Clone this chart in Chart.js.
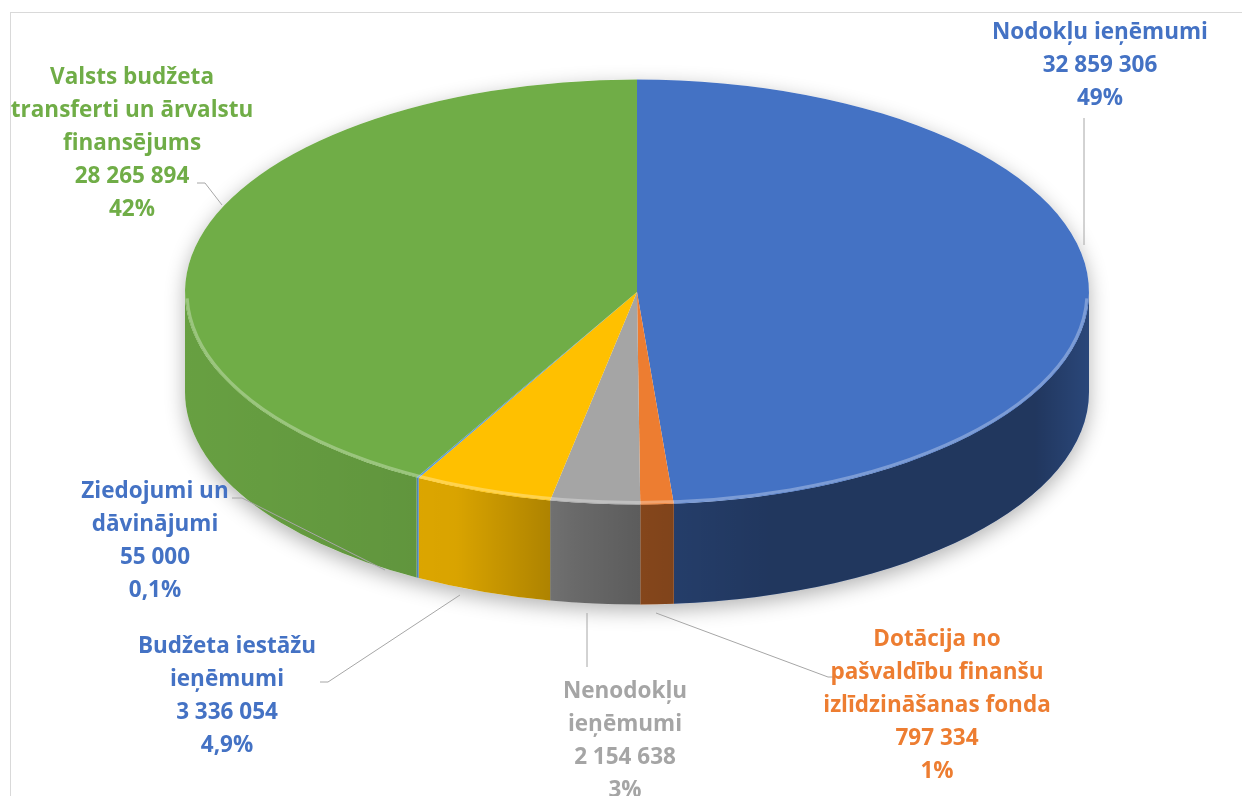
<!DOCTYPE html>
<html>
<head>
<meta charset="utf-8">
<script src="https://cdn.jsdelivr.net/npm/chart.js@4.4.0/dist/chart.umd.min.js"></script>
<style>
  html, body { margin: 0; padding: 0; background: #fff; }
</style>
</head>
<body>
<canvas id="pie" width="1242" height="796"></canvas>
<script>
// data
const labels = [
    'Nodokļu ieņēmumi',
    'Dotācija no\npašvaldību finanšu\nizlīdzināšanas fonda',
    'Nenodokļu\nieņēmumi',
    'Budžeta iestāžu\nieņēmumi',
    'Ziedojumi un\ndāvinājumi',
    'Valsts budžeta\ntransferti un ārvalstu\nfinansējums'
];
const values = [32859306, 797334, 2154638, 3336054, 55000, 28265894];
const shares = ['49%', '1%', '3%', '4,9%', '0,1%', '42%'];
const colors = ['#4472C4', '#ED7D31', '#A5A5A5', '#FFC000', '#5B9BD5', '#70AD47'];
const textColors = ['#4472C4', '#ED7D31', '#A5A5A5', '#4472C4', '#4472C4', '#70AD47'];

// label placement (centre x, first line y) and leader lines
const labelLayout = [
    { x: 1100, y: 33, leader: [[1084, 118], [1084, 245]] },
    { x: 937, y: 640, leader: [[838, 677], [828, 677], [656, 613]] },
    { x: 625, y: 692, leader: [[587, 667], [587, 613]] },
    { x: 227, y: 647, leader: [[320, 682], [328, 682], [460, 595]] },
    { x: 155, y: 492, leader: [[232, 498], [242, 498], [385, 570]] },
    { x: 132, y: 78, leader: [[197, 183], [205, 183], [222, 205]] }
];
const lineStep = 33;

function fmt(v) {
    return v.toString().replace(/\B(?=(\d{3})+(?!\d))/g, ' ');
}

const pie3d = {
    id: 'pie3d',
    beforeDraw(chart) {
        let ctx = chart.ctx;
        ctx.save();
        ctx.strokeStyle = '#D9D9D9';
        ctx.lineWidth = 1;
        ctx.strokeRect(10.5, 12.5, 1400, 1000);
        ctx.restore();
    },
    beforeDatasetsDraw(chart, args, opts) {
        let ctx = chart.ctx;
        let arcs = chart.getDatasetMeta(0).data;
        let p = arcs[0].getProps(['x', 'y', 'outerRadius'], true);
        let cx = p.x, cy = p.y, r = p.outerRadius;
        let ry = r * opts.tilt, d = opts.depth;

        // soft shadow under the body
        ctx.save();
        ctx.shadowColor = 'rgba(0,0,0,0.3)';
        ctx.shadowBlur = 20;
        ctx.shadowOffsetY = 6;
        ctx.fillStyle = '#fff';
        ctx.beginPath();
        ctx.ellipse(cx, cy, r, ry, 0, Math.PI, 2 * Math.PI);
        ctx.lineTo(cx + r, cy + d);
        ctx.ellipse(cx, cy + d, r, ry, 0, 0, Math.PI);
        ctx.closePath();
        ctx.fill();
        ctx.restore();

        // side walls
        let shade = ctx.createLinearGradient(cx - r, 0, cx + r, 0);
        shade.addColorStop(0, 'rgba(0,0,0,0.08)');
        shade.addColorStop(0.3, 'rgba(0,0,0,0.15)');
        shade.addColorStop(0.43, 'rgba(0,0,0,0.36)');
        shade.addColorStop(0.5, 'rgba(0,0,0,0.44)');
        shade.addColorStop(0.65, 'rgba(0,0,0,0.52)');
        shade.addColorStop(0.94, 'rgba(0,0,0,0.52)');
        shade.addColorStop(1, 'rgba(0,0,0,0.38)');
        arcs.forEach((arc, i) => {
            let a = arc.getProps(['startAngle', 'endAngle'], true);
            let s = Math.max(a.startAngle, 0), e = Math.min(a.endAngle, Math.PI);
            if (e <= s) return;
            ctx.beginPath();
            ctx.ellipse(cx, cy, r, ry, 0, s, e);
            ctx.lineTo(cx + r * Math.cos(e), cy + d + ry * Math.sin(e));
            ctx.ellipse(cx, cy + d, r, ry, 0, e, s, true);
            ctx.closePath();
            ctx.fillStyle = colors[i];
            ctx.fill();
            ctx.fillStyle = shade;
            ctx.fill();
        });

        // squash the flat pie into the top face
        ctx.save();
        ctx.translate(cx, cy);
        ctx.scale(1, opts.tilt);
        ctx.translate(-cx, -cy);
    },
    afterDatasetsDraw(chart, args, opts) {
        let ctx = chart.ctx;
        ctx.restore();
        let arcs = chart.getDatasetMeta(0).data;
        let p = arcs[0].getProps(['x', 'y', 'outerRadius'], true);
        let ry = p.outerRadius * opts.tilt;

        // bevel highlight on the front rim
        ctx.save();
        ctx.strokeStyle = 'rgba(255,255,255,0.3)';
        ctx.lineWidth = 3;
        ctx.beginPath();
        ctx.ellipse(p.x, p.y, p.outerRadius - 2, ry - 2, 0, 0.03, Math.PI - 0.03);
        ctx.stroke();
        ctx.restore();

        // leader lines and labels
        ctx.save();
        ctx.strokeStyle = '#A6A6A6';
        ctx.lineWidth = 1;
        labelLayout.forEach(l => {
            ctx.beginPath();
            l.leader.forEach((pt, k) => k ? ctx.lineTo(pt[0], pt[1]) : ctx.moveTo(pt[0], pt[1]));
            ctx.stroke();
        });
        ctx.font = 'bold 22.5px "Open Sans"';
        ctx.textAlign = 'center';
        ctx.textBaseline = 'middle';
        labels.forEach((lab, i) => {
            let lines = lab.split('\n').concat([fmt(values[i]), shares[i]]);
            ctx.fillStyle = textColors[i];
            lines.forEach((t, k) => ctx.fillText(t, labelLayout[i].x, labelLayout[i].y + k * lineStep));
        });
        ctx.restore();
    }
};

new Chart(document.getElementById('pie'), {
    type: 'pie',
    data: {
        labels: labels,
        datasets: [{
            data: values,
            backgroundColor: colors,
            borderWidth: 0,
            radius: 452,
            clip: false
        }]
    },
    options: {
        responsive: false,
        animation: false,
        events: [],
        layout: { padding: { left: 32, right: 0, top: 0, bottom: 212 } },
        plugins: {
            legend: { display: false },
            tooltip: { enabled: false },
            pie3d: { tilt: 0.47, depth: 100 }
        }
    },
    plugins: [pie3d]
});
</script>
</body>
</html>
